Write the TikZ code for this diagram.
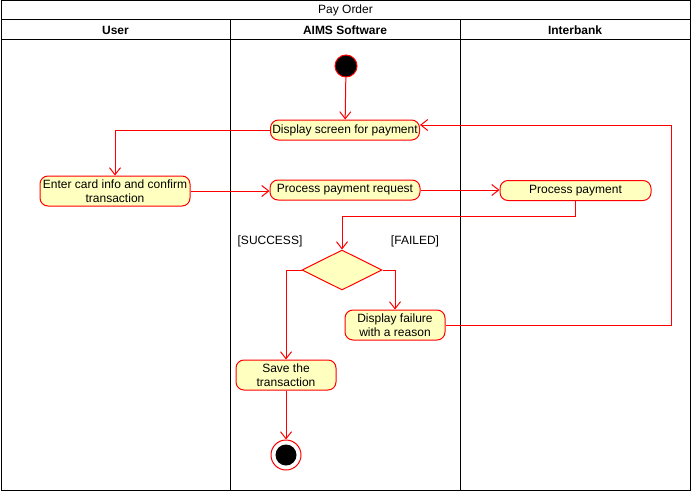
\documentclass[tikz,border=0pt]{standalone}
\usepackage{fontspec}
\setmainfont{Liberation Sans}
\usetikzlibrary{shapes.geometric,arrows.meta}
\definecolor{actfill}{HTML}{FFFFC0}
\definecolor{actred}{HTML}{FF0000}
\begin{document}
\begin{tikzpicture}[x=1pt,y=-1pt,
  every node/.style={font=\fontsize{12}{13.5}\selectfont},
  act/.style={draw=actred,fill=actfill,line width=1pt,rounded corners=8pt,inner sep=0pt,align=center},
  arr/.style={draw=actred,line width=1pt,-{Straight Barb[length=7pt,width=11pt,line width=1pt]}},
  ln/.style={draw=actred,line width=1pt},
  frame/.style={draw=black,line width=1pt}]
\useasboundingbox (0,0) rectangle (692,492);
% swimlanes
\draw[frame] (1,1) rectangle (690,490);
\draw[frame] (1,20) -- (690,20);
\draw[frame] (1,40) -- (690,40);
\draw[frame] (230,20) -- (230,490);
\draw[frame] (460,20) -- (460,490);
\node (title) at (345.5,10.5) {Pay Order};
\node[font=\fontsize{12}{13.5}\selectfont\bfseries] (hu) at (115.5,30) {User};
\node[font=\fontsize{12}{13.5}\selectfont\bfseries] (ha) at (345,30) {AIMS Software};
\node[font=\fontsize{12}{13.5}\selectfont\bfseries] (hi) at (575,30) {Interbank};
% nodes
\node[circle,fill=black,draw=actred,line width=1pt,minimum size=22pt,inner sep=0pt] (start) at (346,66) {};
\node[act,minimum width=149pt,minimum height=20pt] (disp) at (345,130) {Display screen for payment};
\node[act,minimum width=150pt,minimum height=30pt] (card) at (115,191) {Enter card info and confirm\\transaction};
\node[act,minimum width=150pt,minimum height=20pt] (ppr) at (345,190) {Process payment request};
\node[act,minimum width=151pt,minimum height=20pt] (pp) at (575.5,190.5) {Process payment};
\node[diamond,draw=actred,fill=actfill,line width=1pt,minimum width=80pt,minimum height=40pt,inner sep=0pt,aspect=2] (dia) at (342,270) {};
\node[act,minimum width=100pt,minimum height=30pt] (fail) at (395,325) {Display failure\\with a reason};
\node[act,minimum width=100pt,minimum height=30pt] (save) at (286,375) {Save the\\transaction};
\node[circle,draw=actred,fill=white,line width=1pt,minimum size=30pt,inner sep=0pt] (endo) at (286,455) {};
\node[circle,fill=black,minimum size=21pt,inner sep=0pt] (endi) at (286,455) {};
\node (succ) at (270,241) {[SUCCESS]};
\node (failed) at (415,241) {[FAILED]};
\coordinate (rt) at (671,0);
% connectors
\draw[arr] (start) -- (disp);
\draw[arr] (disp.west) -| (card.north);
\draw[arr] (card.east) -- (card.east -| ppr.west);
\draw[arr] (ppr.east) -- (ppr.east -| pp.west);
\draw[arr] (pp.south) -- ++(0,15) -| (dia.north);
\draw[arr] (dia.east) -| (fail.north);
\draw[arr] (dia.west) -| (save.north);
\draw[arr] (fail.east) -- (fail.east -| rt) |- ([yshift=5pt]disp.east);
\draw[arr] (save.south) -- (endo.north);
\end{tikzpicture}
\end{document}
